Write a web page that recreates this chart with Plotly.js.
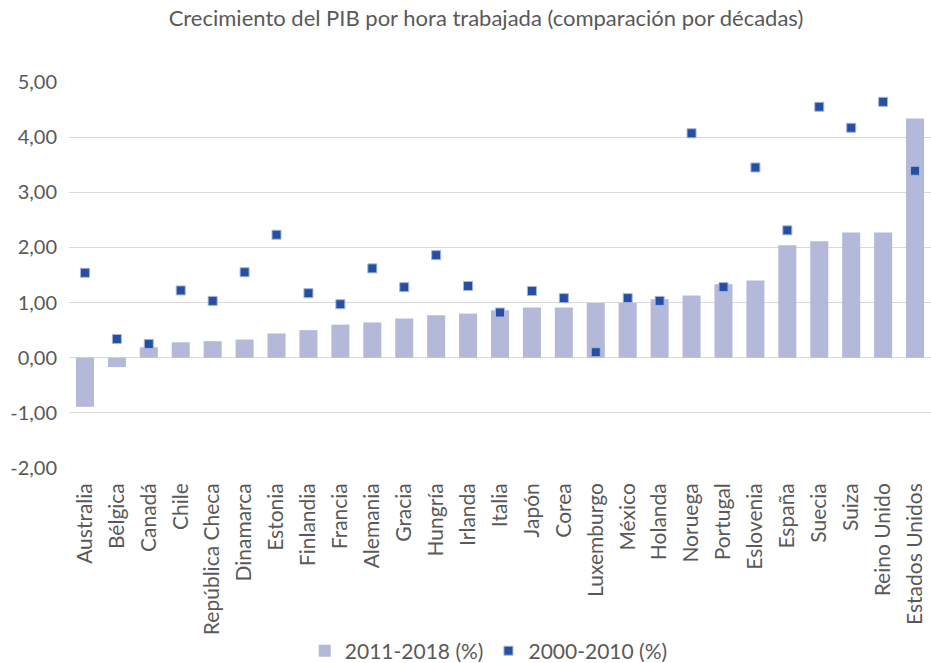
<!DOCTYPE html>
<html>
<head>
<meta charset="utf-8">
<script src="https://cdn.plot.ly/plotly-3.0.1.min.js"></script>
<style>html,body{margin:0;padding:0;background:#fff;}#chart{width:931px;height:663px;}</style>
</head>
<body>
<div id="chart"></div>
<script>
const countries = ["Australia","Bélgica","Canadá","Chile","República Checa","Dinamarca","Estonia","Finlandia","Francia","Alemania","Gracia","Hungría","Irlanda","Italia","Japón","Corea","Luxemburgo","México","Holanda","Noruega","Portugal","Eslovenia","España","Suecia","Suiza","Reino Unido","Estados Unidos"];
const growth2011_2018 = [-0.89,-0.17,0.19,0.28,0.30,0.33,0.44,0.50,0.60,0.64,0.71,0.77,0.80,0.86,0.91,0.91,0.99,0.99,1.06,1.13,1.33,1.40,2.04,2.11,2.27,2.27,4.34];
const growth2000_2010 = [1.54,0.34,0.25,1.22,1.03,1.55,2.23,1.17,0.97,1.62,1.28,1.86,1.30,0.82,1.21,1.08,0.10,1.08,1.03,4.07,1.28,3.45,2.31,4.55,4.17,4.64,3.39];
const yTickValues = [-2,-1,0,1,2,3,4,5];
const yTickLabels = ["-2,00","-1,00","0,00","1,00","2,00","3,00","4,00","5,00"];
const seriesNames = ["2011-2018 (%)","2000-2010 (%)"];
const chartTitle = "Crecimiento del PIB por hora trabajada (comparación por décadas)";

const font = "Lato, 'Noto Sans', sans-serif";
const grey = "#595959";

const traces = [
  {type:"bar", x:countries, y:growth2011_2018, name:seriesNames[0],
   marker:{color:"#b4b9da"}, width:0.565},
  {type:"scatter", mode:"markers", x:countries, y:growth2000_2010, name:seriesNames[1],
   marker:{symbol:"square", size:9, color:"#2350a3", line:{color:"#a9b2da", width:1}}}
];

const layout = {
  width:931, height:663,
  margin:{l:69, r:0, t:82, b:195},
  paper_bgcolor:"#fff", plot_bgcolor:"#fff",
  font:{family:font, color:grey, size:20},
  title:{text:chartTitle, x:0.522, xanchor:"center", y:0.973, yanchor:"middle",
         font:{family:font, size:22, color:grey}},
  showlegend:true,
  legend:{orientation:"h", xref:"container", yref:"container", x:0.525, xanchor:"center", y:0.018, yanchor:"middle",
          font:{family:font, size:21, color:grey}, itemwidth:20, traceorder:"normal"},
  xaxis:{type:"category", range:[-0.5,26.5], autorange:false, tickangle:-90, showgrid:false, showline:false, ticks:"",
         ticklabelstandoff:10,
         tickfont:{family:font, size:21, color:grey}, automargin:false},
  yaxis:{range:[-2,5], autorange:false, tickmode:"array", tickvals:yTickValues, ticktext:yTickLabels,
         showgrid:true, gridcolor:"#d9d9d9", gridwidth:1,
         zeroline:true, zerolinecolor:"#d9d9d9", zerolinewidth:1, showline:false, ticks:"",
         ticklabelstandoff:11,
         tickfont:{family:font, size:20, color:grey}, automargin:false}
};

Plotly.newPlot("chart", traces, layout, {displayModeBar:false, staticPlot:true});
</script>
</body>
</html>
